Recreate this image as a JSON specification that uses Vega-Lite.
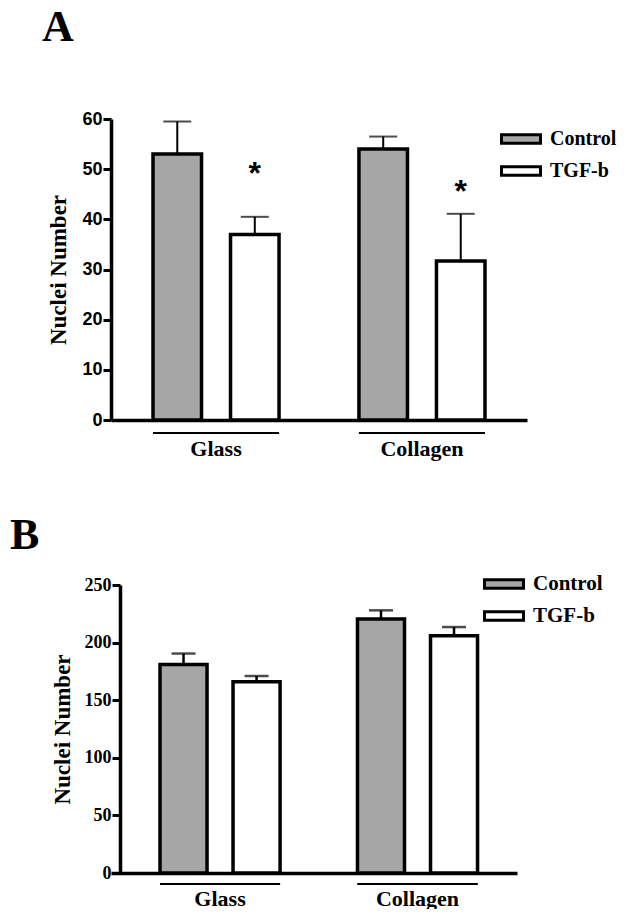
{
  "$schema": "https://vega.github.io/schema/vega-lite/v6.json",
  "background": "white",
  "padding": {"left": 10, "top": 6, "right": 0, "bottom": 0},
  "spacing": 55,
  "config": {
    "view": {"stroke": null},
    "axis": {"grid": false, "domainColor": "black", "tickColor": "black", "labelColor": "black", "titleColor": "black"}
  },
  "resolve": {
    "scale": {"x": "independent", "y": "independent", "color": "independent", "xOffset": "independent"},
    "legend": {"color": "independent"}
  },
  "vconcat": [
    {
      "title": {"text": "A", "anchor": "start", "frame": "group", "dx": -69, "offset": 60, "font": "Liberation Serif", "fontSize": 44, "fontWeight": "bold", "color": "black"},
      "width": 416,
      "height": 301,
      "data": {"values": [
        {"surface": "Glass", "treatment": "Control", "mean": 53, "upper": 59.5},
        {"surface": "Glass", "treatment": "TGF-b", "mean": 37, "upper": 40.5},
        {"surface": "Collagen", "treatment": "Control", "mean": 54, "upper": 56.5},
        {"surface": "Collagen", "treatment": "TGF-b", "mean": 31.7, "upper": 41.1}
      ]},
      "layer": [
        {
          "mark": {"type": "rule", "color": "black", "strokeWidth": 2},
          "encoding": {
            "x": {"field": "surface", "type": "nominal", "sort": ["Glass", "Collagen"], "title": null,
              "scale": {"paddingInner": 0.388, "paddingOuter": 0.204},
              "axis": {"labelAngle": 0, "ticks": false, "domainWidth": 3.5, "labelFont": "Liberation Serif", "labelFontSize": 22, "labelFontWeight": "bold", "labelPadding": 18}},
            "xOffset": {"field": "treatment", "type": "nominal", "sort": ["Control", "TGF-b"], "scale": {"paddingInner": 0.374, "paddingOuter": 0}},
            "y": {"field": "mean", "type": "quantitative", "title": "Nuclei Number",
              "scale": {"domain": [0, 60], "nice": false},
              "axis": {"values": [0, 10, 20, 30, 40, 50, 60], "domainWidth": 3.5, "tickWidth": 3, "tickSize": 8, "labelPadding": 1,
                "labelFont": "Liberation Sans", "labelFontSize": 18, "labelFontWeight": "bold",
                "titleFont": "Liberation Serif", "titleFontSize": 23, "titleFontWeight": "bold", "titlePadding": 11}},
            "y2": {"field": "upper"}
          }
        },
        {
          "mark": {"type": "tick", "color": "black", "thickness": 2, "size": 28},
          "encoding": {
            "x": {"field": "surface", "type": "nominal", "sort": ["Glass", "Collagen"], "title": null},
            "xOffset": {"field": "treatment", "type": "nominal", "sort": ["Control", "TGF-b"]},
            "y": {"field": "upper", "type": "quantitative", "title": "Nuclei Number"}
          }
        },
        {
          "mark": {"type": "bar", "stroke": "black", "strokeWidth": 3.5},
          "encoding": {
            "x": {"field": "surface", "type": "nominal", "sort": ["Glass", "Collagen"], "title": null},
            "xOffset": {"field": "treatment", "type": "nominal", "sort": ["Control", "TGF-b"]},
            "y": {"field": "mean", "type": "quantitative", "title": "Nuclei Number"},
            "color": {"field": "treatment", "type": "nominal",
              "scale": {"domain": ["Control", "TGF-b"], "range": ["#a6a6a6", "#ffffff"]},
              "legend": {"title": null, "orient": "none", "legendX": 389, "legendY": -1, "direction": "vertical", "padding": 0,
                "symbolType": "M-1,-0.22H1V0.22H-1Z", "symbolSize": 1521, "symbolStrokeColor": "black", "symbolStrokeWidth": 3, "symbolOpacity": 1,
                "labelFont": "Liberation Serif", "labelFontSize": 20, "labelFontWeight": "bold", "labelColor": "black", "labelOffset": 8, "rowPadding": -4}}
          }
        },
        {
          "data": {"values": [
            {"surface": "Glass", "treatment": "TGF-b", "label": "*", "pos": 50},
            {"surface": "Collagen", "treatment": "TGF-b", "label": "*", "pos": 46.4}
          ]},
          "mark": {"type": "text", "font": "Liberation Sans", "fontSize": 32, "fontWeight": "bold", "color": "black", "baseline": "alphabetic", "dy": 15},
          "encoding": {
            "x": {"field": "surface", "type": "nominal", "sort": ["Glass", "Collagen"], "title": null},
            "xOffset": {"field": "treatment", "type": "nominal", "sort": ["Control", "TGF-b"]},
            "y": {"field": "pos", "type": "quantitative", "title": "Nuclei Number"},
            "text": {"field": "label"}
          }
        },
        {
          "mark": {"type": "rule", "color": "black", "strokeWidth": 2, "yOffset": 13},
          "encoding": {
            "x": {"field": "surface", "type": "nominal", "sort": ["Glass", "Collagen"], "title": null, "bandPosition": 0},
            "x2": {"field": "surface", "bandPosition": 1},
            "y": {"datum": 0, "type": "quantitative"}
          }
        }
      ]
    },
    {
      "title": {"text": "B", "anchor": "start", "frame": "group", "dx": -101, "offset": 5, "font": "Liberation Serif", "fontSize": 44, "fontWeight": "bold", "color": "black"},
      "width": 406,
      "height": 288,
      "data": {"values": [
        {"surface": "Glass", "treatment": "Control", "mean": 181, "upper": 190.5},
        {"surface": "Glass", "treatment": "TGF-b", "mean": 166, "upper": 171},
        {"surface": "Collagen", "treatment": "Control", "mean": 220.5, "upper": 228},
        {"surface": "Collagen", "treatment": "TGF-b", "mean": 206, "upper": 213.5}
      ]},
      "layer": [
        {
          "mark": {"type": "rule", "color": "black", "strokeWidth": 2.5},
          "encoding": {
            "x": {"field": "surface", "type": "nominal", "sort": ["Glass", "Collagen"], "title": null,
              "scale": {"paddingInner": 0.392, "paddingOuter": 0.224, "align": 0.554},
              "axis": {"labelAngle": 0, "ticks": false, "domainWidth": 3.5, "labelFont": "Liberation Serif", "labelFontSize": 22, "labelFontWeight": "bold", "labelPadding": 15}},
            "xOffset": {"field": "treatment", "type": "nominal", "sort": ["Control", "TGF-b"], "scale": {"paddingInner": 0.356, "paddingOuter": 0}},
            "y": {"field": "mean", "type": "quantitative", "title": "Nuclei Number",
              "scale": {"domain": [0, 250], "nice": false},
              "axis": {"values": [0, 50, 100, 150, 200, 250], "offset": -9, "domainWidth": 3.5, "tickWidth": 3, "tickSize": 8, "labelPadding": 1,
                "labelFont": "Liberation Serif", "labelFontSize": 18, "labelFontWeight": "bold",
                "titleFont": "Liberation Serif", "titleFontSize": 23, "titleFontWeight": "bold", "titlePadding": 10}},
            "y2": {"field": "upper"}
          }
        },
        {
          "mark": {"type": "tick", "color": "black", "thickness": 2.5, "size": 24},
          "encoding": {
            "x": {"field": "surface", "type": "nominal", "sort": ["Glass", "Collagen"], "title": null},
            "xOffset": {"field": "treatment", "type": "nominal", "sort": ["Control", "TGF-b"]},
            "y": {"field": "upper", "type": "quantitative", "title": "Nuclei Number"}
          }
        },
        {
          "mark": {"type": "bar", "stroke": "black", "strokeWidth": 3.5},
          "encoding": {
            "x": {"field": "surface", "type": "nominal", "sort": ["Glass", "Collagen"], "title": null},
            "xOffset": {"field": "treatment", "type": "nominal", "sort": ["Control", "TGF-b"]},
            "y": {"field": "mean", "type": "quantitative", "title": "Nuclei Number"},
            "color": {"field": "treatment", "type": "nominal",
              "scale": {"domain": ["Control", "TGF-b"], "range": ["#a6a6a6", "#ffffff"]},
              "legend": {"title": null, "orient": "none", "legendX": 372, "legendY": -22, "direction": "vertical", "padding": 0,
                "symbolType": "M-1,-0.22H1V0.22H-1Z", "symbolSize": 1521, "symbolStrokeColor": "black", "symbolStrokeWidth": 3, "symbolOpacity": 1,
                "labelFont": "Liberation Serif", "labelFontSize": 21, "labelFontWeight": "bold", "labelColor": "black", "labelOffset": 8, "rowPadding": -6}}
          }
        },
        {
          "mark": {"type": "rule", "color": "black", "strokeWidth": 2, "yOffset": 11},
          "encoding": {
            "x": {"field": "surface", "type": "nominal", "sort": ["Glass", "Collagen"], "title": null, "bandPosition": 0},
            "x2": {"field": "surface", "bandPosition": 1},
            "y": {"datum": 0, "type": "quantitative"}
          }
        }
      ]
    }
  ]
}
